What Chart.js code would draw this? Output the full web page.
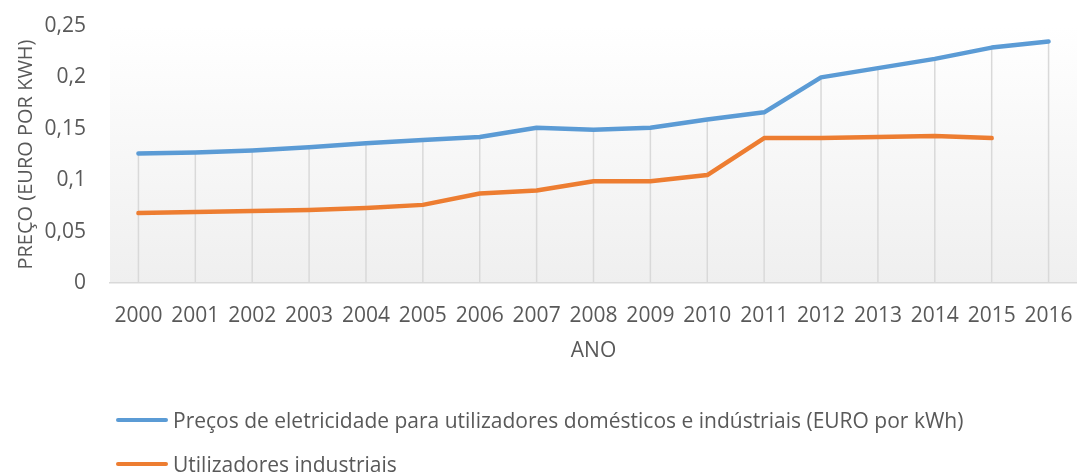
<!DOCTYPE html>
<html>
<head>
<meta charset="utf-8">
<script src="https://cdn.jsdelivr.net/npm/chart.js@4/dist/chart.umd.min.js"></script>
<style>
  html, body { margin: 0; padding: 0; background: #fff; overflow: hidden; }
  #wrap { position: relative; width: 1077px; height: 475px; }
  #legend { position: absolute; left: 0; top: 0; width: 100%; font-family: 'Open Sans', sans-serif; font-size: 21px; color: #595959; }
  .lg-row { position: absolute; left: 116px; display: flex; align-items: center; height: 24px; white-space: nowrap; }
  .lg-line { width: 52px; height: 4px; border-radius: 2px; margin-right: 5px; }
</style>
</head>
<body>
<div id="wrap">
  <canvas id="chart" width="1077" height="475"></canvas>
  <div id="legend"></div>
</div>
<script>
// data
const years = ['2000','2001','2002','2003','2004','2005','2006','2007','2008','2009','2010','2011','2012','2013','2014','2015','2016'];
const domestic   = [0.126, 0.127, 0.129, 0.132, 0.136, 0.139, 0.142, 0.151, 0.149, 0.151, 0.159, 0.166, 0.200, 0.209, 0.218, 0.229, 0.235];
const industrial = [0.068, 0.069, 0.070, 0.071, 0.073, 0.076, 0.087, 0.090, 0.099, 0.099, 0.105, 0.141, 0.141, 0.142, 0.143, 0.141, null];
const seriesNames = ['Preços de eletricidade para utilizadores domésticos e indústriais (EURO por kWh)', 'Utilizadores industriais'];
const yTicks = [0, 0.05, 0.1, 0.15, 0.2, 0.25];

const TEXT = '#595959';
const GRID = '#d9d9d9';
const FONT = "'Open Sans', sans-serif";

// plot area gradient (white at top to light grey at bottom)
const plotBg = {
  id: 'plotBg',
  beforeDraw(chart) {
    const { ctx, chartArea: a } = chart;
    const g = ctx.createLinearGradient(0, a.top, 0, a.bottom);
    g.addColorStop(0, '#ffffff');
    g.addColorStop(1, '#efefef');
    ctx.save();
    ctx.fillStyle = g;
    ctx.fillRect(a.left, a.top, a.right - a.left, a.bottom - a.top);
    ctx.restore();
  }
};

// Excel-style drop lines from the highest point down to the axis
const dropLines = {
  id: 'dropLines',
  beforeDatasetsDraw(chart) {
    const { ctx, chartArea: a, scales: { x, y } } = chart;
    ctx.save();
    ctx.strokeStyle = GRID;
    ctx.lineWidth = 1.5;
    chart.data.labels.forEach((_, i) => {
      const vals = chart.data.datasets.map(d => d.data[i]).filter(v => v != null);
      if (!vals.length) return;
      const px = x.getPixelForValue(i);
      ctx.beginPath();
      ctx.moveTo(px, y.getPixelForValue(Math.max(...vals)));
      ctx.lineTo(px, a.bottom);
      ctx.stroke();
    });
    ctx.restore();
  }
};

const chart = new Chart(document.getElementById('chart'), {
  type: 'line',
  data: {
    labels: years,
    datasets: [
      { label: seriesNames[0], data: domestic, borderColor: '#5b9bd5', backgroundColor: '#5b9bd5' },
      { label: seriesNames[1], data: industrial, borderColor: '#ed7d31', backgroundColor: '#ed7d31' }
    ]
  },
  options: {
    responsive: false,
    animation: false,
    layout: { padding: { top: 26, right: 0, bottom: 0, left: 0 } },
    elements: {
      line: { borderWidth: 4.5, tension: 0, borderCapStyle: 'round', borderJoinStyle: 'round' },
      point: { radius: 0, hoverRadius: 0 }
    },
    plugins: { legend: { display: false }, tooltip: { enabled: false } },
    scales: {
      x: {
        offset: true,
        afterFit: s => { s.height = 192; s.paddingLeft = 0; s.paddingRight = 0; },
        grid: { display: false, drawTicks: false },
        border: { display: true, color: GRID, width: 1.5 },
        ticks: { color: TEXT, font: { family: FONT, size: 21 }, padding: 20, maxRotation: 0, autoSkip: false },
        title: { display: true, text: 'ANO', color: TEXT, font: { family: FONT, size: 21 }, padding: { top: 0, bottom: 111 } }
      },
      y: {
        min: 0, max: 0.25,
        afterFit: s => { s.width = 110; s.paddingTop = 0; s.paddingBottom = 0; },
        afterBuildTicks: s => { s.ticks = yTicks.map(v => ({ value: v })); },
        grid: { display: false, drawTicks: false },
        border: { display: false },
        ticks: {
          color: TEXT, font: { family: FONT, size: 21 }, padding: 24,
          callback: v => String(Number(v.toFixed(2))).replace('.', ',')
        },
        title: { display: true, text: 'PREÇO (EURO POR KWH)', color: TEXT, font: { family: FONT, size: 20 }, padding: { top: 14, bottom: 0 } }
      }
    }
  },
  plugins: [plotBg, dropLines]
});

// legend stacked at the bottom, left aligned like the original
const legendTops = [408, 452];
document.getElementById('legend').innerHTML = chart.data.datasets.map((d, i) => `
  <div class="lg-row" style="top:${legendTops[i]}px">
    <span class="lg-line" style="background:${d.borderColor}"></span><span>${d.label}</span>
  </div>`).join('');
</script>
</body>
</html>
